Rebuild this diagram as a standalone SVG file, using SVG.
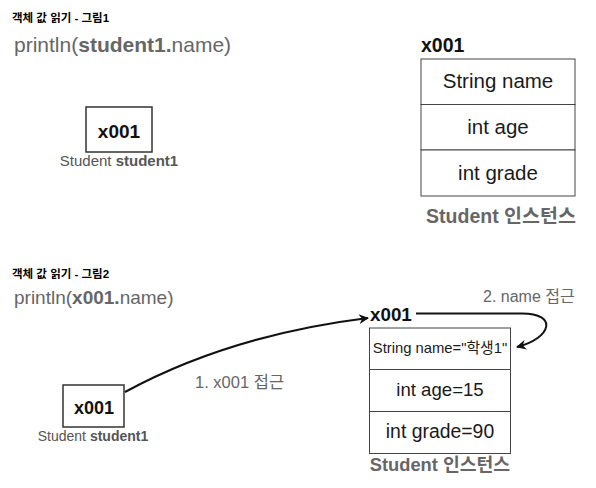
<svg xmlns="http://www.w3.org/2000/svg" width="596" height="488" viewBox="0 0 596 488">
<defs>
<style>
text{font-family:"Liberation Sans","Noto Sans CJK KR",sans-serif;}
.title{font-size:11.5px;font-weight:bold;fill:#000;}
.b{font-weight:bold;}
.box{fill:#fff;stroke:#333;stroke-width:1.5;}
.cell{fill:#fff;stroke:#444;stroke-width:1;}
.addr{font-weight:bold;fill:#111;}
.mid{text-anchor:middle;}
.var{fill:#555;text-anchor:middle;}
.field{fill:#1a1a1a;text-anchor:middle;}
.inst{font-weight:bold;fill:#666;text-anchor:middle;}
.lbl{fill:#666;}
.conn{fill:none;stroke:#111;stroke-width:2;}
</style>
<marker id="arr" viewBox="0 0 10 10" refX="9" refY="5" markerWidth="10" markerHeight="10" markerUnits="userSpaceOnUse" orient="auto">
<path d="M0,0 L10,5 L0,10 L3,5 Z" fill="#111"/>
</marker>
</defs>

<g id="fig1">
<text class="title" x="12" y="22">객체 값 읽기 - 그림1</text>
<text style="font-size:21px;fill:#666" x="14" y="52">println(<tspan class="b">student1.</tspan>name)</text>
</g>
<g id="var1">
<rect class="box" x="86" y="107" width="66" height="45"/>
<text class="addr mid" style="font-size:19px" x="119" y="138">x001</text>
<text class="var" style="font-size:15px" x="119" y="166">Student <tspan class="b">student1</tspan></text>
</g>
<g id="inst1">
<text class="addr" style="font-size:19.5px" x="421" y="52">x001</text>
<rect class="cell" x="421" y="59" width="154" height="45.5"/>
<rect class="cell" x="421" y="104.5" width="154" height="45.5"/>
<rect class="cell" x="421" y="150" width="154" height="46"/>
<text class="field" style="font-size:20.5px" x="498" y="88">String name</text>
<text class="field" style="font-size:20.5px" x="498" y="134">int age</text>
<text class="field" style="font-size:20.5px" x="498" y="180">int grade</text>
<text class="inst" style="font-size:19.5px" x="501" y="223">Student 인스턴스</text>
</g>

<g id="fig2">
<text class="title" x="12" y="278">객체 값 읽기 - 그림2</text>
<text style="font-size:19px;fill:#666" x="14" y="304">println(<tspan class="b">x001.</tspan>name)</text>
</g>
<g id="var2">
<rect class="box" x="63" y="385" width="61" height="42"/>
<text class="addr mid" style="font-size:18px" x="94" y="414">x001</text>
<text class="var" style="font-size:14px" x="93" y="441">Student <tspan class="b">student1</tspan></text>
</g>
<g id="inst2">
<text class="addr" style="font-size:18.8px" x="370" y="321">x001</text>
<rect class="cell" x="369.5" y="328" width="141" height="41.5"/>
<rect class="cell" x="369.5" y="369.5" width="141" height="42"/>
<rect class="cell" x="369.5" y="411.5" width="141" height="42"/>
<text class="field" style="font-size:14.8px" x="440" y="353">String name="학생1"</text>
<text class="field" style="font-size:18.6px" x="440" y="396">int age=15</text>
<text class="field" style="font-size:19.4px" x="440" y="438">int grade=90</text>
<text class="inst" style="font-size:18.3px" x="440" y="471">Student 인스턴스</text>
</g>

<g id="connectors">
<path class="conn" marker-end="url(#arr)" d="M125,392 Q230,335 368,318"/>
<path class="conn" marker-end="url(#arr)" d="M416,313.5 L522,313.5 C558,313.5 552,338 517,347"/>
<text class="lbl" style="font-size:16.5px" x="195" y="388">1. x001 접근</text>
<text class="lbl" style="font-size:16px" x="483" y="302">2. name 접근</text>
</g>
</svg>
